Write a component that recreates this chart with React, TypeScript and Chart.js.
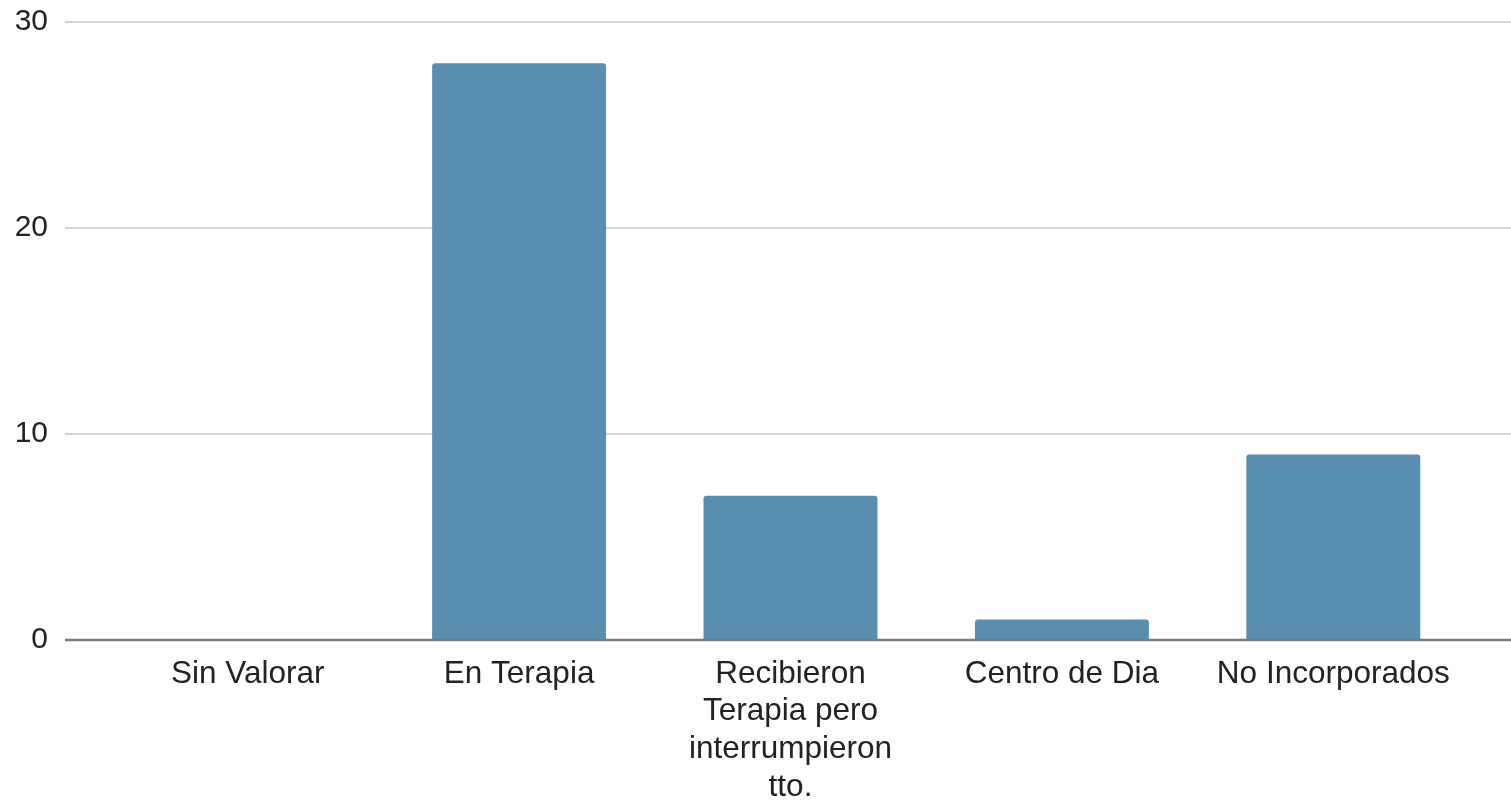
import React, { useEffect, useRef } from "react";
import { Chart, registerables } from "chart.js";

Chart.register(...registerables);

const categories: (string | string[])[] = [
  "Sin Valorar",
  "En Terapia",
  ["Recibieron", "Terapia pero", "interrumpieron", "tto."],
  "Centro de Dia",
  "No Incorporados",
];
const values = [0, 28, 7, 1, 9];
const yTicks = [0, 10, 20, 30];

const W = 1511;
const H = 803;
const TOP = 22;
const BOTTOM = 640;

const gridPlugin = {
  id: "extGrid",
  beforeDatasetsDraw(chart: any) {
    const ctx = chart.ctx;
    const y = chart.scales.y;
    ctx.save();
    ctx.strokeStyle = "#d4d4d4";
    ctx.lineWidth = 2;
    yTicks.forEach((v) => {
      if (v === 0) return;
      const py = Math.round(y.getPixelForValue(v));
      ctx.beginPath();
      ctx.moveTo(65, py);
      ctx.lineTo(chart.width, py);
      ctx.stroke();
    });
    ctx.restore();
  },
  afterDatasetsDraw(chart: any) {
    const ctx = chart.ctx;
    const y = chart.scales.y;
    ctx.save();
    ctx.strokeStyle = "#7a7a7a";
    ctx.lineWidth = 2.5;
    const py = y.getPixelForValue(0);
    ctx.beginPath();
    ctx.moveTo(65, py);
    ctx.lineTo(chart.width, py);
    ctx.stroke();
    ctx.restore();
  },
};

export default function App() {
  const ref = useRef<HTMLCanvasElement | null>(null);
  useEffect(() => {
    if (!ref.current) return;
    const chart = new Chart(ref.current, {
      type: "bar",
      data: {
        labels: categories as any,
        datasets: [
          {
            data: values,
            backgroundColor: "#588fb0",
            borderRadius: 3,
            borderSkipped: "bottom",
            barPercentage: 0.641,
            categoryPercentage: 1,
          },
        ],
      },
      options: {
        animation: false,
        responsive: false,
        devicePixelRatio: 1,
        layout: { padding: { top: TOP, right: 42, left: 0, bottom: 0 } },
        plugins: { legend: { display: false }, tooltip: { enabled: false } },
        scales: {
          x: {
            grid: { display: false, drawTicks: false },
            border: { display: false },
            ticks: {
              color: "#222",
              padding: 15,
              maxRotation: 0,
              autoSkip: false,
              font: { family: "'Liberation Sans', Arial, sans-serif", size: 31.5, lineHeight: 1.2 },
            },
            afterFit: (s: any) => {
              s.height = H - BOTTOM;
            },
          },
          y: {
            min: 0,
            max: 30,
            grid: { display: false, drawTicks: false },
            border: { display: false },
            afterBuildTicks: (s: any) => {
              s.ticks = yTicks.map((v) => ({ value: v }));
            },
            ticks: {
              color: "#222",
              padding: 64,
              font: { family: "'Liberation Sans', Arial, sans-serif", size: 30 },
            },
            afterFit: (s: any) => {
              s.width = 112;
              s.height = BOTTOM - TOP;
              s.paddingTop = 0;
              s.paddingBottom = 0;
            },
          },
        },
      },
      plugins: [gridPlugin],
    });
    return () => chart.destroy();
  }, []);
  return (
    <div style={{ position: "fixed", left: 0, top: 0, width: W, height: H, background: "#fff" }}>
      <canvas ref={ref} width={W} height={H} style={{ width: W, height: H, display: "block" }} />
    </div>
  );
}
